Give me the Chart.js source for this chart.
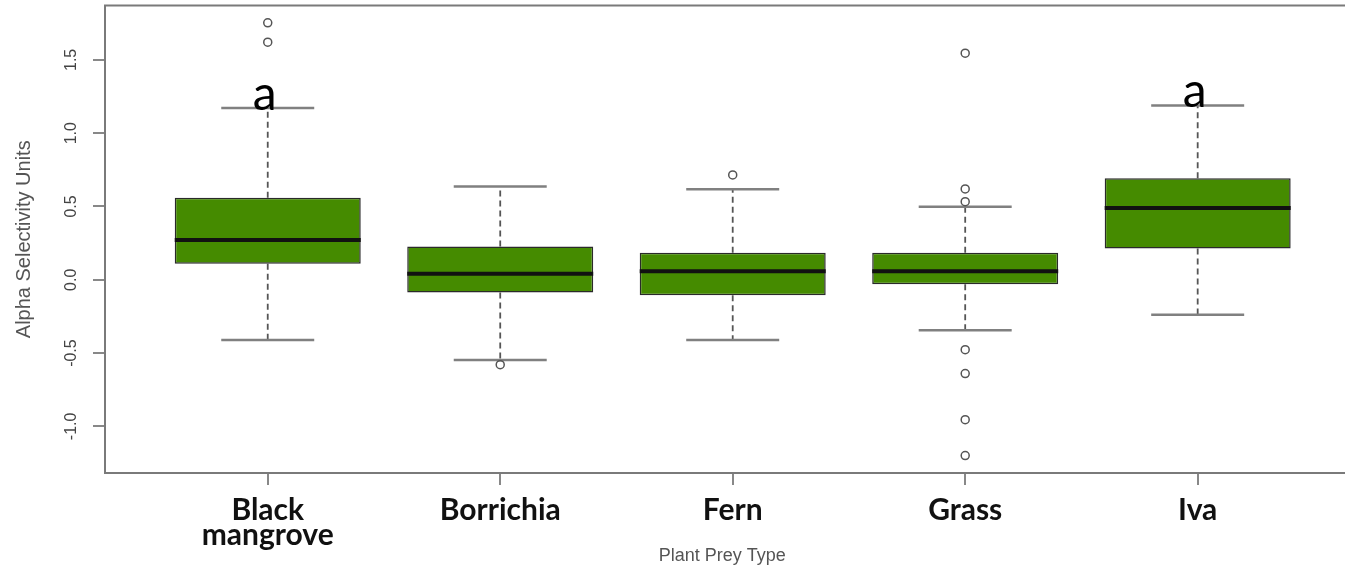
<!DOCTYPE html>
<html>
<head>
<meta charset="utf-8">
<script src="https://cdn.jsdelivr.net/npm/chart.js@4/dist/chart.umd.min.js"></script>
<style>
  html, body { margin: 0; padding: 0; background: #ffffff; overflow: hidden; }
  #wrap { width: 1345px; height: 572px; position: relative; }
</style>
</head>
<body>
<div id="wrap"><canvas id="chart"></canvas></div>
<script>
// Plant prey types and their box-plot summaries (alpha selectivity)
const categories = ['Black mangrove', 'Borrichia', 'Fern', 'Grass', 'Iva'];
const xTickLabels = [['Black', 'mangrove'], 'Borrichia', 'Fern', 'Grass', 'Iva'];
const lowerWhisker = [-0.411, -0.548, -0.411, -0.345, -0.238];
const quartile1 = [0.109, -0.087, -0.105, -0.030, 0.213];
const medians = [0.272, 0.041, 0.059, 0.059, 0.490];
const quartile3 = [0.559, 0.227, 0.184, 0.184, 0.692];
const upperWhisker = [1.172, 0.636, 0.617, 0.499, 1.189];
const outliers = [
  [1.753, 1.621],
  [-0.579],
  [0.715],
  [1.546, 0.620, 0.533, -0.477, -0.640, -0.954, -1.199],
  []
];
const groupLetters = ['a', '', '', '', 'a'];
const yTicks = [-1.0, -0.5, 0.0, 0.5, 1.0, 1.5];
const yRange = [-1.318, 1.871];
const xRange = [0.3, 5.61];

const boxData = categories.map((c, i) => ({ x: i + 1, y: [quartile1[i], quartile3[i]] }));
const outlierData = [];
outliers.forEach((vals, i) => vals.forEach(v => outlierData.push({ x: i + 1, y: v })));

// Whiskers, caps, medians, frame and group letters drawn through the chart scales
const boxExtras = {
  id: 'boxExtras',
  beforeDatasetsDraw(chart) {
    const { ctx, chartArea, scales: { x, y } } = chart;
    ctx.save();
    ctx.beginPath();
    ctx.rect(chartArea.left, chartArea.top, chartArea.right - chartArea.left, chartArea.bottom - chartArea.top);
    ctx.clip();
    categories.forEach((c, i) => {
      const cx = x.getPixelForValue(i + 1);
      const capL = x.getPixelForValue(i + 1 - 0.2);
      const capR = x.getPixelForValue(i + 1 + 0.2);
      // dashed whiskers
      ctx.setLineDash([6, 4]);
      ctx.strokeStyle = '#555555';
      ctx.lineWidth = 1.8;
      ctx.beginPath();
      ctx.moveTo(cx, y.getPixelForValue(quartile3[i]));
      ctx.lineTo(cx, y.getPixelForValue(upperWhisker[i]));
      ctx.moveTo(cx, y.getPixelForValue(quartile1[i]));
      ctx.lineTo(cx, y.getPixelForValue(lowerWhisker[i]));
      ctx.stroke();
      // whisker caps
      ctx.setLineDash([]);
      ctx.strokeStyle = '#808080';
      ctx.lineWidth = 2.5;
      ctx.beginPath();
      [upperWhisker[i], lowerWhisker[i]].forEach(v => {
        const py = y.getPixelForValue(v);
        ctx.moveTo(capL, py);
        ctx.lineTo(capR, py);
      });
      ctx.stroke();
    });
    ctx.restore();
  },
  afterDatasetsDraw(chart) {
    const { ctx, chartArea, scales: { x, y } } = chart;
    ctx.save();
    // medians
    ctx.strokeStyle = '#111111';
    ctx.lineWidth = 4;
    categories.forEach((c, i) => {
      const l = x.getPixelForValue(i + 1 - 0.4);
      const r = x.getPixelForValue(i + 1 + 0.4);
      const py = y.getPixelForValue(medians[i]);
      ctx.beginPath();
      ctx.moveTo(l, py);
      ctx.lineTo(r, py);
      ctx.stroke();
    });
    // plot frame (right side runs past the canvas edge)
    const right = x.getPixelForValue(5.7);
    ctx.strokeStyle = '#7a7a7a';
    ctx.lineWidth = 2;
    ctx.beginPath();
    ctx.moveTo(right, chartArea.top);
    ctx.lineTo(chartArea.left, chartArea.top);
    ctx.lineTo(chartArea.left, chartArea.bottom);
    ctx.lineTo(right, chartArea.bottom);
    ctx.stroke();
    // group letters above the upper whiskers
    ctx.fillStyle = '#000000';
    ctx.font = '48px Lato, "Open Sans", sans-serif';
    ctx.textAlign = 'center';
    ctx.textBaseline = 'alphabetic';
    groupLetters.forEach((t, i) => {
      if (!t) return;
      ctx.fillText(t, x.getPixelForValue(i + 1) - 3, y.getPixelForValue(upperWhisker[i]) + 2);
    });
    ctx.restore();
  }
};

new Chart(document.getElementById('chart'), {
  data: {
    datasets: [
      {
        type: 'bar',
        label: 'Interquartile range',
        data: boxData,
        backgroundColor: '#458B00',
        borderColor: '#2a2a2a',
        borderWidth: 1.5,
        borderSkipped: false,
        barPercentage: 0.8,
        categoryPercentage: 1.0,
        order: 2
      },
      {
        type: 'scatter',
        label: 'Outliers',
        data: outlierData,
        pointStyle: 'circle',
        pointRadius: 4,
        pointBorderWidth: 1.5,
        pointBorderColor: '#555555',
        pointBackgroundColor: 'rgba(0,0,0,0)',
        order: 1
      }
    ]
  },
  options: {
    responsive: true,
    maintainAspectRatio: false,
    animation: false,
    layout: { padding: { top: 4, right: 0, left: 0, bottom: 0 } },
    plugins: {
      legend: { display: false },
      tooltip: { enabled: false }
    },
    scales: {
      x: {
        type: 'linear',
        offset: false,
        min: xRange[0],
        max: xRange[1],
        afterFit(scale) {
          scale.height = 99;
          scale.paddingLeft = 0;
          scale.paddingRight = 0;
        },
        afterBuildTicks(scale) { scale.ticks = categories.map((c, i) => ({ value: i + 1 })); },
        grid: {
          offset: false,
          drawOnChartArea: false,
          drawTicks: true,
          tickLength: 12,
          color: '#888888',
          lineWidth: 2
        },
        border: { display: false },
        ticks: {
          autoSkip: false,
          maxRotation: 0,
          minRotation: 0,
          padding: 13,
          color: '#111111',
          font: { family: 'Lato, "Open Sans", sans-serif', size: 30, weight: 'bold', lineHeight: 0.82 },
          callback: (v) => xTickLabels[Math.round(v) - 1]
        },
        title: {
          display: true,
          text: 'Plant Prey Type',
          color: '#555555',
          font: { family: '"Liberation Sans", Arial, sans-serif', size: 18 },
          padding: { top: 0, bottom: 5 }
        }
      },
      y: {
        type: 'linear',
        min: yRange[0],
        max: yRange[1],
        afterFit(scale) {
          scale.width = 105;
          scale.paddingTop = 0;
          scale.paddingBottom = 0;
        },
        afterBuildTicks(scale) { scale.ticks = yTicks.map(v => ({ value: v })); },
        grid: {
          drawOnChartArea: false,
          drawTicks: true,
          tickLength: 12,
          color: '#888888',
          lineWidth: 2
        },
        border: { display: false },
        ticks: {
          minRotation: 90,
          maxRotation: 90,
          crossAlign: 'center',
          padding: 8,
          color: '#444444',
          font: { family: '"Liberation Sans", Arial, sans-serif', size: 16 },
          callback: (v) => Number(v).toFixed(1)
        },
        title: {
          display: true,
          text: 'Alpha Selectivity Units',
          color: '#555555',
          font: { family: '"Liberation Sans", Arial, sans-serif', size: 20 },
          padding: { top: 12, bottom: 0 }
        }
      }
    }
  },
  plugins: [boxExtras]
});
</script>
</body>
</html>
